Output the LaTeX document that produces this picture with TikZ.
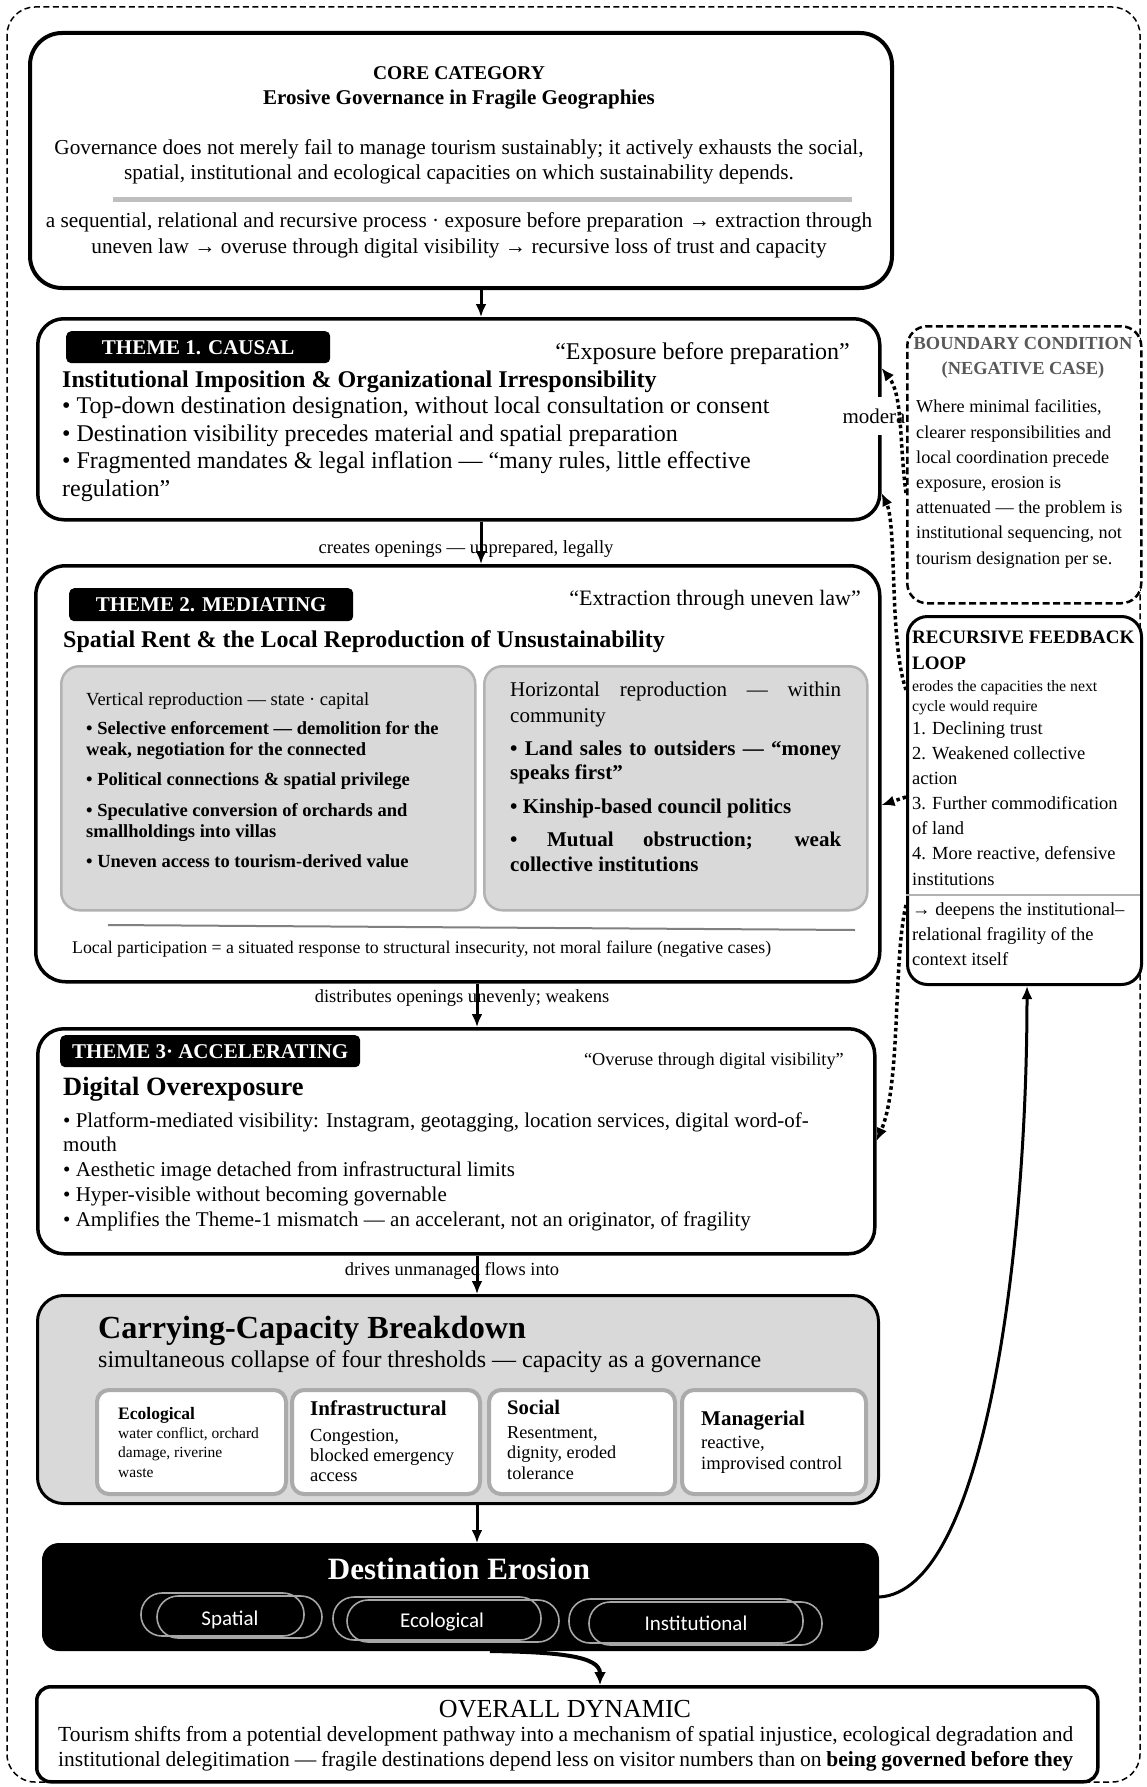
\documentclass[tikz,border=0pt]{standalone}
\usepackage{fontspec}
\setmainfont{Liberation Serif}
\newfontfamily\pillfont{Carlito}
\usetikzlibrary{arrows.meta}
\newcommand{\fsz}[2]{\fontsize{#1}{#2}\selectfont}
\begin{document}
\begin{tikzpicture}[x=1pt,y=-1pt,
  box/.style={draw=black,line width=3.5pt,fill=white,rounded corners=26pt,anchor=north west,inner sep=0pt},
  greybox/.style={draw=black!30,line width=2.5pt,fill=black!15,rounded corners=18pt,anchor=north west,inner sep=0pt},
  subbox/.style={draw=black!33,line width=4pt,fill=white,rounded corners=12pt,anchor=north west,inner sep=0pt},
  tag/.style={fill=black,rounded corners=5pt,inner sep=0pt,anchor=north west,text=white,font=\fsz{21}{24}\bfseries},
  txt/.style={inner sep=0pt,anchor=base west,align=left},
  ctxt/.style={inner sep=0pt,anchor=base,align=center},
  rtxt/.style={inner sep=0pt,anchor=base east,align=right},
  arr/.style={line width=3pt,-{Latex[length=13pt,width=11pt]}},
  dotarr/.style={line width=3.5pt,dash pattern=on 3.5pt off 3pt,-{Latex[length=13pt,width=11pt]}},
  pill/.style={draw=black!35,line width=1.6pt,rounded corners=21pt},
]
\useasboundingbox (0,0) rectangle (1146,1787);
% outer frame
\draw[line width=1.5pt,dash pattern=on 6pt off 3.5pt,rounded corners=28pt] (7,7) rectangle (1140,1782);

% ---------- core ----------
\node[box,line width=4pt,rounded corners=32pt,minimum width=862pt,minimum height=255pt] (core) at (28,31) {};
\node[ctxt,font=\fsz{19.5}{22}\bfseries] (corettl) at (459,80) {CORE CATEGORY};
\node[ctxt,font=\fsz{21}{24}\bfseries] (coresub) at (459,105) {Erosive Governance in Fragile Geographies};
\node[ctxt,font=\fsz{21.3}{24.5}] (coredef) at (459,179.5) {Governance does not merely fail to manage tourism sustainably; it actively exhausts the social,\\spatial, institutional and ecological capacities on which sustainability depends.};
\draw[line width=5pt,black!25] (113,200) -- (852,200);
\node[ctxt,font=\fsz{21.3}{26}] (coreproc) at (459,254) {a sequential, relational and recursive process · exposure before preparation → extraction through\\uneven law → overuse through digital visibility → recursive loss of trust and capacity};

% ---------- theme 1 ----------
\node[box,minimum width=842pt,minimum height=201pt] (t1) at (36,317) {};
\node[tag,minimum width=264pt,minimum height=32pt] (tag1) at (66,331) {THEME 1. CAUSAL};
\node[rtxt,font=\fsz{24}{27}] (q1) at (850,359) {“Exposure before preparation”};
\node[txt,font=\fsz{24}{27}\bfseries] (t1ttl) at (62,387) {Institutional Imposition \& Organizational Irresponsibility};
\node[txt,font=\fsz{24}{27.6}] (t1list) at (62,496.5) {• Top-down destination designation, without local consultation or consent\\• Destination visibility precedes material and spatial preparation\\• Fragmented mandates \& legal inflation — “many rules, little effective\\regulation”};

\node[fill=white,inner sep=0pt,minimum height=38pt,font=\fsz{21}{24}] (mod) at (874,416) {modera};

% ---------- boundary condition ----------
\node[box,draw=black,line width=2.5pt,dash pattern=on 7pt off 3.5pt,rounded corners=20pt,minimum width=234pt,minimum height=277pt] (bnd) at (906,325) {};
\node[ctxt,text=black!65,font=\fsz{18.4}{25}\bfseries] (bndttl) at (1023,374) {BOUNDARY CONDITION\\(NEGATIVE CASE)};
\node[txt,font=\fsz{18.2}{25.17}] (bndtxt) at (916,564) {Where minimal facilities,\\clearer responsibilities and\\local coordination precede\\exposure, erosion is\\attenuated — the problem is\\institutional sequencing, not\\tourism designation per se.};

% ---------- theme 2 ----------
\node[box,rounded corners=30pt,minimum width=844pt,minimum height=416pt] (t2) at (34,564) {};
\node[tag,minimum width=284pt,minimum height=33pt] (tag2) at (69,588) {THEME 2. MEDIATING};
\node[rtxt,font=\fsz{22}{25}] (q2) at (861,605) {“Extraction through uneven law”};
\node[txt,font=\fsz{24}{27}\bfseries] (t2ttl) at (63,647) {Spatial Rent \& the Local Reproduction of Unsustainability};
\node[greybox,minimum width=414pt,minimum height=244pt] (gl) at (60,665) {};
\node[greybox,minimum width=383pt,minimum height=244pt] (gr) at (483,665) {};
\node[txt,font=\fsz{18.5}{21}] (vlab) at (86,705) {Vertical reproduction — state · capital};
\node[txt,font=\fsz{18.5}{21}\bfseries] (v1) at (86,755) {• Selective enforcement — demolition for the\\weak, negotiation for the connected};
\node[txt,font=\fsz{18.5}{21}\bfseries] (v2) at (86,785) {• Political connections \& spatial privilege};
\node[txt,font=\fsz{18.5}{21}\bfseries] (v3) at (86,837) {• Speculative conversion of orchards and\\smallholdings into villas};
\node[txt,font=\fsz{18.5}{21}\bfseries] (v4) at (86,867) {• Uneven access to tourism-derived value};
\node[txt,font=\fsz{21}{26}] (hlab) at (510,722) {\makebox[331pt][s]{Horizontal reproduction — within}\\community};
\node[txt,font=\fsz{21}{24}\bfseries] (h1) at (510,779) {\makebox[331pt][s]{• Land sales to outsiders — “money}\\speaks first”};
\node[txt,font=\fsz{21}{24}\bfseries] (h2) at (510,813) {• Kinship-based council politics};
\node[txt,font=\fsz{21}{25}\bfseries] (h3) at (510,871) {\makebox[331pt][s]{• Mutual obstruction; weak}\\collective institutions};
\draw[black!50,line width=2pt] (108,925) -- (855,930);
\node[txt,font=\fsz{17.8}{21}] (locp) at (72,953) {Local participation = a situated response to structural insecurity, not moral failure (negative cases)};

% ---------- theme 3 ----------
\node[box,minimum width=837pt,minimum height=225pt] (t3) at (36,1027) {};
\node[tag,minimum width=300pt,minimum height=32pt] (tag3) at (60,1035) {THEME 3· ACCELERATING};
\node[rtxt,font=\fsz{18.3}{22}] (q3) at (844,1065) {“Overuse through digital visibility”};
\node[txt,font=\fsz{26.4}{30}\bfseries] (t3ttl) at (63,1095) {Digital Overexposure};
\node[txt,font=\fsz{21}{24.75}] (t3list) at (63,1226) {• Platform-mediated visibility: Instagram, geotagging, location services, digital word-of-\\mouth\\• Aesthetic image detached from infrastructural limits\\• Hyper-visible without becoming governable\\• Amplifies the Theme-1 mismatch — an accelerant, not an originator, of fragility};

% ---------- carrying capacity ----------
\node[box,line width=3pt,fill=black!15,rounded corners=26pt,minimum width=841pt,minimum height=208pt] (cap) at (36,1294) {};
\node[txt,font=\fsz{32.2}{36}\bfseries] (capttl) at (98,1338) {Carrying-Capacity Breakdown};
\node[txt,font=\fsz{24}{28}] (capsub) at (98,1367) {simultaneous collapse of four thresholds — capacity as a governance};
\node[subbox,minimum width=189pt,minimum height=104pt] (s1) at (95,1388) {};
\node[subbox,minimum width=188pt,minimum height=104pt] (s2) at (290,1388) {};
\node[subbox,minimum width=186pt,minimum height=104pt] (s3) at (487,1388) {};
\node[subbox,minimum width=184pt,minimum height=104pt] (s4) at (680,1388) {};
\node[txt,font=\fsz{17.5}{20}\bfseries] (s1h) at (118,1419) {Ecological};
\node[txt,font=\fsz{15.5}{19.5}] (s1t) at (118,1477) {water conflict, orchard\\damage, riverine\\waste};
\node[txt,font=\fsz{21}{24}\bfseries] (s2h) at (310,1415) {Infrastructural};
\node[txt,font=\fsz{18.5}{20}] (s2t) at (310,1481) {Congestion,\\blocked emergency\\access};
\node[txt,font=\fsz{20.7}{24}\bfseries] (s3h) at (507,1414) {Social};
\node[txt,font=\fsz{18.2}{20.5}] (s3t) at (507,1479) {Resentment,\\dignity, eroded\\tolerance};
\node[txt,font=\fsz{21}{24}\bfseries] (s4h) at (701,1425) {Managerial};
\node[txt,font=\fsz{18.6}{21}] (s4t) at (701,1469) {reactive,\\improvised control};

% ---------- destination erosion ----------
\node[box,fill=black,line width=2pt,rounded corners=16pt,minimum width=835pt,minimum height=106pt] (de) at (42,1543) {};
\node[ctxt,text=white,font=\fsz{31}{34}\bfseries] (dettl) at (459,1579) {Destination Erosion};
\draw[pill] (141,1593) rectangle (304,1636);
\draw[pill] (157,1596) rectangle (322,1638);
\draw[pill] (333,1597) rectangle (541,1640);
\draw[pill] (347,1600) rectangle (559,1642);
\draw[pill] (569,1599) rectangle (803,1643);
\draw[pill] (589,1602) rectangle (822,1645);
\node[ctxt,text=white,font=\pillfont\fsz{21}{24}] (p1) at (230,1625) {Spatial};
\node[ctxt,text=white,font=\pillfont\fsz{21}{24}] (p2) at (442,1627) {Ecological};
\node[ctxt,text=white,font=\pillfont\fsz{21}{24}] (p3) at (696,1630) {Institutional};

% ---------- overall ----------
\node[box,rounded corners=14pt,minimum width=1061pt,minimum height=95pt] (ov) at (35,1685) {};
\node[ctxt,font=\fsz{26}{30}] (ovttl) at (565,1717) {OVERALL DYNAMIC};
\node[txt,font=\fsz{21.5}{25}] (ovtxt) at (58,1766) {\makebox[1015pt][s]{Tourism shifts from a potential development pathway into a mechanism of spatial injustice, ecological degradation and}\\\makebox[1015pt][s]{institutional delegitimation — fragile destinations depend less on visitor numbers than on \textbf{being governed before they}}};

% ---------- recursive feedback ----------
\node[box,line width=3pt,rounded corners=20pt,minimum width=234pt,minimum height=368pt] (rf) at (906,615) {};
\node[txt,font=\fsz{19}{26}\bfseries] (rfttl) at (912,669) {RECURSIVE FEEDBACK\\LOOP};
\node[txt,font=\fsz{15.8}{20}] (rfsub) at (912,711) {erodes the capacities the next\\cycle would require};
\node[txt,font=\fsz{18.5}{25.15}] (rflist) at (912,885) {1. Declining trust\\2. Weakened collective\\action\\3. Further commodification\\of land\\4. More reactive, defensive\\institutions};
\draw[black!30,line width=1.5pt] ([yshift=-280pt]rf.north west) -- ([yshift=-280pt,xshift=-3pt]rf.north east);
\node[txt,font=\fsz{18.5}{25}] (rfend) at (912,965) {→ deepens the institutional–\\relational fragility of the\\context itself};

% ---------- main connectors ----------
\coordinate (ax1) at (481,0);
\coordinate (ax2) at (477,0);
\coordinate (bx) at (490,0);
\coordinate (cx) at (600,0);
\coordinate (dx) at (1027,0);
\draw[arr] (core.south -| ax1) -- (t1.north -| ax1);
\draw[arr] (t1.south -| ax1) -- (t2.north -| ax1);
\node[ctxt,font=\fsz{18.6}{21}] (l1) at (466,553) {creates openings — unprepared, legally};
\draw[arr] (t2.south -| ax2) -- (t3.north -| ax2);
\node[ctxt,font=\fsz{18.5}{21}] (l2) at (462,1002) {distributes openings unevenly; weakens};
\draw[arr] (t3.south -| ax2) -- (cap.north -| ax2);
\node[ctxt,font=\fsz{18.5}{21}] (l3) at (452,1275) {drives unmanaged flows into};
\draw[arr] (cap.south -| ax2) -- (de.north -| ax2);
\draw[line width=4pt,-{Latex[length=13pt,width=12pt]}] (de.south -| bx) .. controls (558,1652) and (600,1656) .. (ov.north -| cx);
\draw[line width=3pt,-{Latex[length=13pt,width=11pt]}] (de.east) .. controls (985,1592) and (1027,1250) .. (rf.south -| dx);

% ---------- dotted feedback arrows ----------
\draw[dotarr] ([yshift=-168pt]bnd.north west) .. controls (899,440) and (903,395) .. ([yshift=-51pt]t1.north east);
\draw[dotarr] ([yshift=-75pt]rf.north west) .. controls (889,640) and (897,525) .. ([yshift=-176pt]t1.north east);
\draw[dotarr] ([yshift=-182pt]rf.north west) -- ([yshift=-241pt]t2.north east);
\draw[dotarr] ([yshift=-290pt]rf.north west) .. controls (893,960) and (901,1085) .. ([yshift=-114pt]t3.north east);
\end{tikzpicture}
\end{document}
